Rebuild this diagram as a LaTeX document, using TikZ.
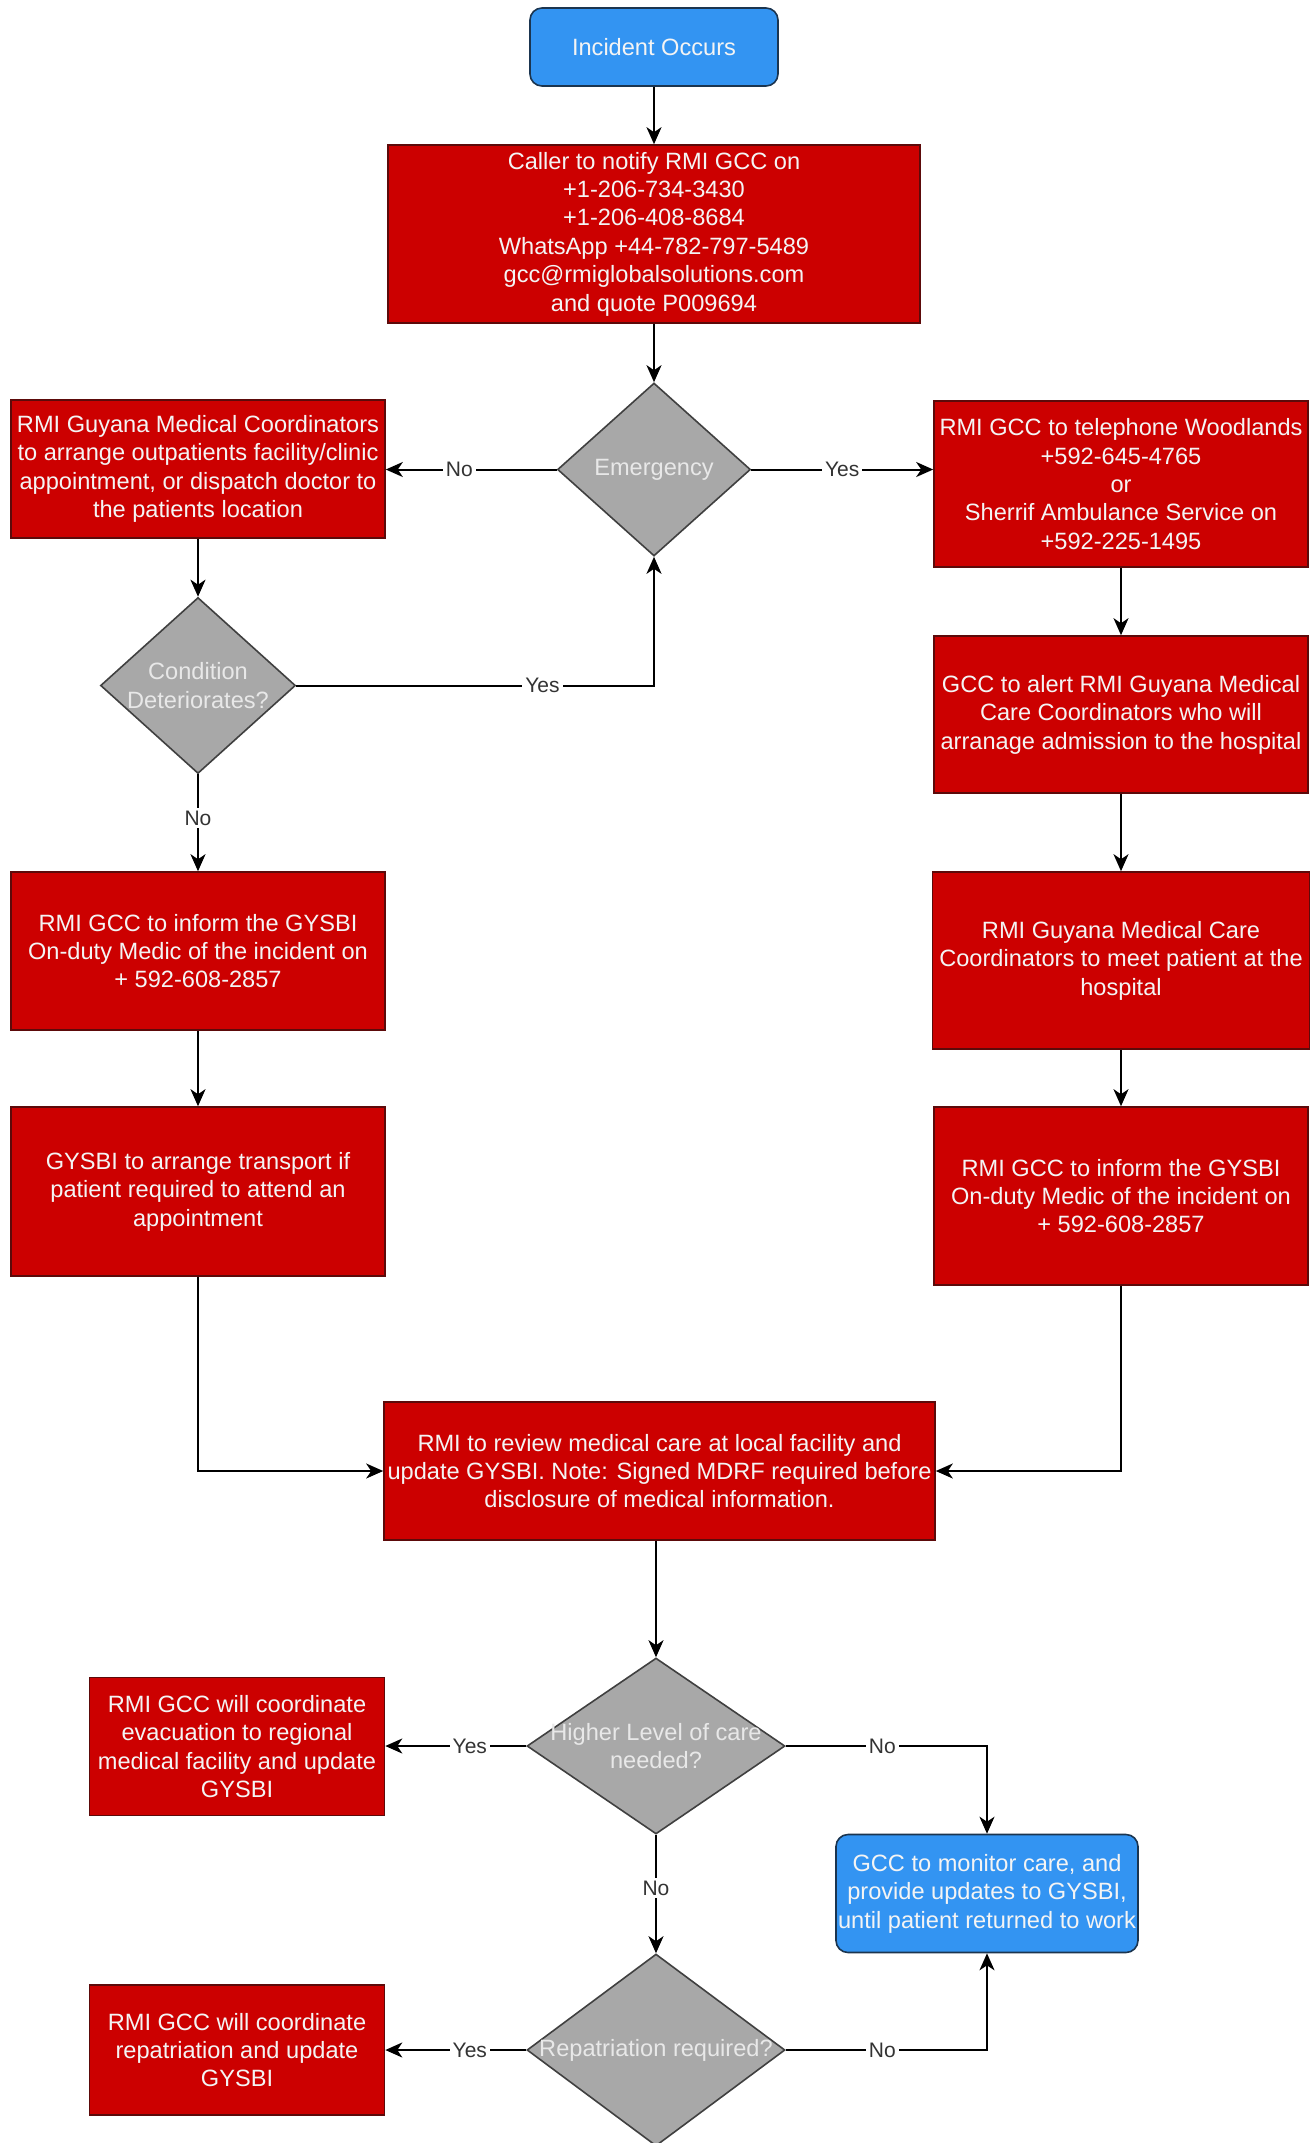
\documentclass[tikz,border=0pt]{standalone}
\usepackage{fontspec}
\setmainfont{Liberation Sans}
\usetikzlibrary{shapes.geometric,arrows.meta}
\definecolor{boxred}{HTML}{CC0000}
\definecolor{boxredline}{HTML}{5C0A0A}
\definecolor{dgrey}{HTML}{A8A8A8}
\definecolor{dgreyline}{HTML}{404040}
\definecolor{sblue}{HTML}{3394F2}
\definecolor{sblueline}{HTML}{1B3550}
\definecolor{txtw}{HTML}{F4F4F4}
\definecolor{dtxt}{HTML}{E8E8E8}
\definecolor{lbltxt}{HTML}{333333}
\begin{document}
\begin{tikzpicture}[x=0.5pt,y=-0.5pt,
  every node/.style={font=\fontsize{11.8}{14.2}\selectfont},
  redbox/.style={draw=boxredline, line width=0.8pt, fill=boxred, text=txtw, align=center, inner sep=0pt},
  bluebox/.style={draw=sblueline, line width=0.8pt, fill=sblue, text=txtw, align=center, inner sep=0pt, rounded corners=6pt},
  decision/.style={diamond, draw=dgreyline, line width=0.8pt, fill=dgrey, inner sep=0pt},
  dtext/.style={text=dtxt, align=center, inner sep=0pt, font=\fontsize{11.8}{14.2}\selectfont},
  lbl/.style={fill=white, text=lbltxt, inner sep=1.5pt, font=\fontsize{10.5}{12}\selectfont},
  arr/.style={draw=black, line width=1pt, -{Stealth[length=8.5pt,width=7.5pt,inset=2.5pt]}}
]
\fill[white] (0,0) rectangle (1312,2143);
\useasboundingbox (0,0) rectangle (1312,2143);
\clip (0,0) rectangle (1312,2143);

% nodes
\node[bluebox, minimum width=124pt, minimum height=39pt] (inc) at (654,47) {Incident Occurs};
\node[redbox, minimum width=266pt, minimum height=89pt] (caller) at (654,234)
  {Caller to notify RMI GCC on\\+1-206-734-3430\\+1-206-408-8684\\WhatsApp +44-782-797-5489\\gcc@rmiglobalsolutions.com\\and quote P009694};
\node[decision, minimum width=96.5pt, minimum height=86.5pt,
  label={[dtext]center:Emergency}] (emerg) at (654,469.5) {};
\node[redbox, minimum width=187pt, minimum height=69pt] (A) at (198,469)
  {RMI Guyana Medical Coordinators\\to arrange outpatients facility/clinic\\appointment, or dispatch doctor to\\the patients location};
\node[redbox, minimum width=187pt, minimum height=83pt] (B) at (1121,484)
  {RMI GCC to telephone Woodlands\\+592-645-4765\\or\\Sherrif Ambulance Service on\\+592-225-1495};
\node[decision, minimum width=97.5pt, minimum height=88pt,
  label={[dtext]center:{Condition\\Deteriorates?}}] (cond) at (198,685.5) {};
\node[redbox, minimum width=187pt, minimum height=78.5pt] (C) at (1121,714.5)
  {GCC to alert RMI Guyana Medical\\Care Coordinators who will\\arranage admission to the hospital};
\node[redbox, minimum width=187pt, minimum height=79pt] (D) at (198,951)
  {RMI GCC to inform the GYSBI\\On-duty Medic of the incident on\\+ 592-608-2857};
\node[redbox, minimum width=188.5pt, minimum height=88.5pt] (E) at (1121,960.5)
  {RMI Guyana Medical Care\\Coordinators to meet patient at the\\hospital};
\node[redbox, minimum width=187pt, minimum height=84.5pt] (F) at (198,1191.5)
  {GYSBI to arrange transport if\\patient required to attend an\\appointment};
\node[redbox, minimum width=187pt, minimum height=89pt] (G) at (1121,1196)
  {RMI GCC to inform the GYSBI\\On-duty Medic of the incident on\\+ 592-608-2857};
\node[redbox, minimum width=275.5pt, minimum height=69pt] (H) at (659.5,1471)
  {RMI to review medical care at local facility and\\update GYSBI. Note: Signed MDRF required before\\disclosure of medical information.};
\node[decision, minimum width=129pt, minimum height=88pt,
  label={[dtext]center:{Higher Level of care\\needed?}}] (higher) at (656,1746) {};
\node[redbox, minimum width=147.5pt, minimum height=69pt] (I) at (237,1746.5)
  {RMI GCC will coordinate\\evacuation to regional\\medical facility and update\\GYSBI};
\node[bluebox, minimum width=151pt, minimum height=59pt] (J) at (987,1893.5)
  {GCC to monitor care, and\\provide updates to GYSBI,\\until patient returned to work};
\node[decision, minimum width=129pt, minimum height=96pt,
  label={[dtext]center:Repatriation required?}] (rep) at (656,2050) {};
\node[redbox, minimum width=147.5pt, minimum height=65pt] (K) at (237,2050)
  {RMI GCC will coordinate\\repatriation and update\\GYSBI};

% connectors
\draw[arr] (inc) -- (caller);
\draw[arr] (caller) -- (emerg);
\draw[arr] (emerg.west) -- node[lbl,pos=0.57]{No} (emerg.west -| A.east);
\draw[arr] (emerg.east) -- node[lbl]{Yes} (emerg.east -| B.west);
\draw[arr] (A) -- (cond);
\draw[arr] (cond.east) -| node[lbl,pos=0.344]{Yes} (emerg.south);
\draw[arr] (cond) -- node[lbl,pos=0.45]{No} (D);
\draw[arr] (B) -- (C);
\draw[arr] (C) -- (E);
\draw[arr] (E) -- (G);
\draw[arr] (D) -- (F);
\draw[arr] (F.south) |- (H.west);
\draw[arr] (G.south) |- (H.east);
\draw[arr] (higher.north |- H.south) -- (higher.north);
\draw[arr] (higher.west) -- node[lbl,pos=0.4]{Yes} (higher.west -| I.east);
\draw[arr] (higher.east) -| node[lbl,pos=0.24]{No} (J.north);
\draw[arr] (higher) -- node[lbl,pos=0.45]{No} (rep);
\draw[arr] (rep.west) -- node[lbl,pos=0.4]{Yes} (rep.west -| K.east);
\draw[arr] (rep.east) -| node[lbl,pos=0.24]{No} (J.south);
\end{tikzpicture}
\end{document}
